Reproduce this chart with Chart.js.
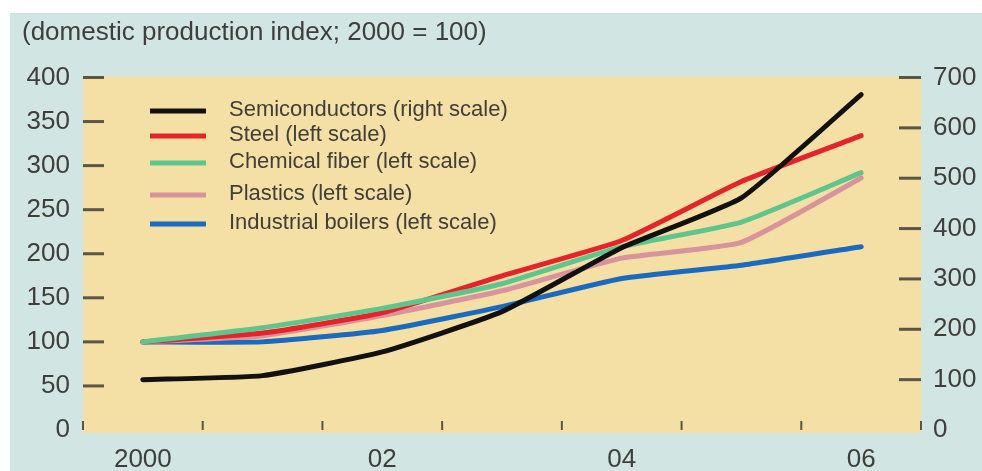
<!DOCTYPE html>
<html>
<head>
  <title>Production index</title>
  <script src="https://cdn.jsdelivr.net/npm/chart.js"></script>
  <style>
    body { margin: 0; background: #fff; }
    #wrap { position: absolute; left: 10px; top: 13px; width: 972px; height: 458px; background: #d1e6e3; }
  </style>
</head>
<body>
  <div id="wrap"><canvas id="lineChart" width="972" height="458"></canvas></div>

  <script>
    const years = ['2000', '2001', '2002', '2003', '2004', '2005', '2006'];
    const yearLabels = ['2000', '', '02', '', '04', '', '06'];
    const leftTicks = [0, 50, 100, 150, 200, 250, 300, 350, 400];
    const rightTicks = [0, 100, 200, 300, 400, 500, 600, 700];

    const semiconductors = [100, 108, 155, 235, 362, 461, 666];
    const steel = [100, 110, 133, 175, 215, 282, 334];
    const chemicalFiber = [100, 116, 138, 166, 208, 236, 292];
    const plastics = [100, 107, 130, 158, 195, 213, 286];
    const boilers = [100, 100, 113, 140, 172, 187, 208];

    const textColor = '#403e3a';
    const font = 'Liberation Sans, Arial, sans-serif';

    // tan plot background
    const plotBg = {
      id: 'plotBg',
      beforeDraw(chart) {
        const a = chart.chartArea, ctx = chart.ctx;
        ctx.save();
        ctx.fillStyle = '#f4dfa5';
        ctx.fillRect(a.left, a.top - 1, a.right - a.left, a.bottom - a.top + 4);
        ctx.restore();
      }
    };

    // short tick dashes drawn inside the plot
    const dashes = {
      id: 'dashes',
      beforeDatasetsDraw(chart) {
        const a = chart.chartArea, ctx = chart.ctx;
        const yl = chart.scales.yLeft, yr = chart.scales.yRight, x = chart.scales.x;
        ctx.save();
        ctx.strokeStyle = '#5b5546';
        ctx.lineWidth = 3;
        leftTicks.forEach(v => {
          if (v === 0) return;
          const p = yl.getPixelForValue(v);
          ctx.beginPath(); ctx.moveTo(a.left, p); ctx.lineTo(a.left + 21, p); ctx.stroke();
        });
        rightTicks.forEach(v => {
          if (v === 0) return;
          const p = yr.getPixelForValue(v);
          ctx.beginPath(); ctx.moveTo(a.right - 22, p); ctx.lineTo(a.right, p); ctx.stroke();
        });
        ctx.lineWidth = 2;
        for (let i = 0; i <= years.length; i++) {
          const p = x.getPixelForValue(i - 0.5);
          ctx.beginPath(); ctx.moveTo(p, a.bottom - 9); ctx.lineTo(p, a.bottom); ctx.stroke();
        }
        ctx.restore();
      }
    };

    // legend inside the plot
    const rowY = [97, 122, 149, 181, 210];
    const boxLegend = {
      id: 'boxLegend',
      afterDraw(chart) {
        const ctx = chart.ctx;
        ctx.save();
        ctx.font = '22px ' + font;
        ctx.textBaseline = 'middle';
        chart.data.datasets.forEach((ds, i) => {
          const y = rowY[i];
          ctx.strokeStyle = ds.borderColor;
          ctx.lineWidth = 5;
          ctx.beginPath(); ctx.moveTo(140, y + 1); ctx.lineTo(196, y + 1); ctx.stroke();
          ctx.fillStyle = textColor;
          ctx.fillText(ds.label, 219, y);
        });
        ctx.restore();
      }
    };

    const line = (label, data, color, axis, order) => ({
      label, data, yAxisID: axis, order,
      borderColor: color, borderWidth: 5, pointRadius: 0,
      tension: 0.15, borderCapStyle: 'round', borderJoinStyle: 'round', fill: false
    });

    new Chart(document.getElementById('lineChart'), {
      type: 'line',
      data: {
        labels: years,
        datasets: [
          line('Semiconductors (right scale)', semiconductors, '#111111', 'yRight', 0),
          line('Steel (left scale)', steel, '#e6222b', 'yLeft', 2),
          line('Chemical fiber (left scale)', chemicalFiber, '#5ec58c', 'yLeft', 1),
          line('Plastics (left scale)', plastics, '#d8939d', 'yLeft', 3),
          line('Industrial boilers (left scale)', boilers, '#1a6bbf', 'yLeft', 4)
        ]
      },
      options: {
        responsive: false,
        animation: false,
        layout: { padding: { left: 12, right: 0, top: 0, bottom: 0 } },
        plugins: {
          legend: { display: false },
          tooltip: { enabled: false },
          title: {
            display: true,
            text: '(domestic production index; 2000 = 100)',
            align: 'start',
            color: textColor,
            font: { family: font, size: 26, weight: 'normal', lineHeight: 1.2 },
            padding: { top: 4, bottom: 29.3 }
          }
        },
        scales: {
          x: {
            type: 'category',
            offset: true,
            grid: { display: false },
            border: { display: false },
            ticks: {
              autoSkip: false, maxRotation: 0, padding: 6,
              color: textColor, font: { family: font, size: 26 },
              callback: (v, i) => yearLabels[i]
            },
            afterFit: s => { s.height = 41; }
          },
          yLeft: {
            position: 'left', min: 0, max: 400,
            grid: { display: false, drawTicks: false },
            border: { display: false },
            ticks: { padding: 13, color: textColor, font: { family: font, size: 26 } },
            afterBuildTicks: s => { s.ticks = leftTicks.map(v => ({ value: v })); },
            afterFit: s => { s.width = 61; }
          },
          yRight: {
            position: 'right', min: 0, max: 700,
            grid: { display: false, drawTicks: false },
            border: { display: false },
            ticks: { padding: 12, color: textColor, font: { family: font, size: 26 } },
            afterBuildTicks: s => { s.ticks = rightTicks.map(v => ({ value: v })); },
            afterFit: s => { s.width = 61; }
          }
        }
      },
      plugins: [plotBg, dashes, boxLegend]
    });
  </script>
</body>
</html>
